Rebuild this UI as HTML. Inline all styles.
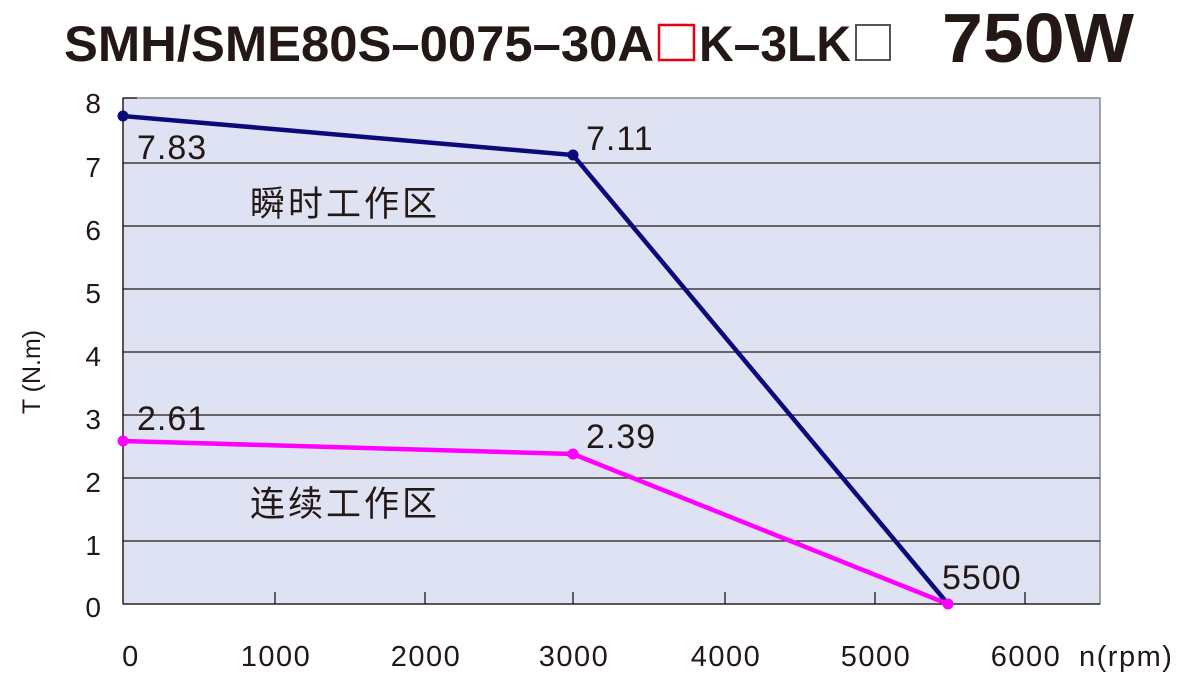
<!DOCTYPE html>
<html><head><meta charset="utf-8"><style>body{margin:0;background:#fff}svg{display:block}</style></head>
<body>
<svg width="1187" height="692" xmlns="http://www.w3.org/2000/svg" font-family="Liberation Sans, sans-serif">
<g font-weight="bold" fill="#231815">
<text x="64" y="61" font-size="50" textLength="590" lengthAdjust="spacingAndGlyphs">SMH/SME80S–0075–30A</text>
<rect x="659" y="25" width="35" height="35" fill="none" stroke="#e60012" stroke-width="2.5"/>
<text x="699" y="61" font-size="50" textLength="152" lengthAdjust="spacingAndGlyphs">K–3LK</text>
<rect x="856" y="25" width="34" height="35" fill="none" stroke="#555" stroke-width="2"/>
<text x="942" y="62" font-size="70" textLength="192" lengthAdjust="spacingAndGlyphs">750W</text>
</g>
<rect x="123" y="98" width="977" height="506" fill="#dfe2f2" stroke="#888" stroke-width="1.5"/>
<g stroke="#231815" stroke-width="1.3">
<line x1="123" y1="163" x2="1100" y2="163"/><line x1="123" y1="226" x2="1100" y2="226"/>
<line x1="123" y1="289" x2="1100" y2="289"/><line x1="123" y1="352" x2="1100" y2="352"/>
<line x1="123" y1="415" x2="1100" y2="415"/><line x1="123" y1="478" x2="1100" y2="478"/>
<line x1="123" y1="541" x2="1100" y2="541"/>
<line x1="123" y1="98" x2="123" y2="604"/><line x1="123" y1="604" x2="1100" y2="604"/>
<line x1="123" y1="98" x2="137" y2="98"/>
<line x1="275" y1="592" x2="275" y2="604"/><line x1="425" y1="592" x2="425" y2="604"/>
<line x1="573" y1="592" x2="573" y2="604"/><line x1="725" y1="592" x2="725" y2="604"/>
<line x1="875" y1="592" x2="875" y2="604"/><line x1="1025" y1="592" x2="1025" y2="604"/>
</g>
<polyline points="123,116 573,155 948,604" fill="none" stroke="#0a0a7a" stroke-width="4.5"/>
<polyline points="123,441 573,454 948,604" fill="none" stroke="#ff00ff" stroke-width="4.5"/>
<circle cx="123" cy="116" r="5.5" fill="#0a0a7a"/><circle cx="573" cy="155" r="5.5" fill="#0a0a7a"/>
<circle cx="123" cy="441" r="5.5" fill="#ff00ff"/><circle cx="573" cy="454" r="5.5" fill="#ff00ff"/>
<circle cx="948" cy="604" r="5.5" fill="#ff00ff"/>
<g fill="#231815" font-size="34" letter-spacing="1">
<text x="137" y="159">7.83</text><text x="586" y="150">7.11</text>
<text x="137" y="430">2.61</text><text x="586" y="448">2.39</text>
<text x="942" y="589">5500</text>
</g>
<g fill="#231815" font-size="35" font-family="Liberation Sans, Noto Sans CJK SC, sans-serif" letter-spacing="3">
<text x="250" y="216">瞬时工作区</text><text x="250" y="516">连续工作区</text>
</g>
<g fill="#231815" font-size="28" text-anchor="end">
<text x="101" y="113">8</text><text x="101" y="177">7</text><text x="101" y="240">6</text>
<text x="101" y="303">5</text><text x="101" y="366">4</text><text x="101" y="429">3</text>
<text x="101" y="492">2</text><text x="101" y="555">1</text><text x="101" y="617">0</text>
</g>
<g fill="#231815" font-size="29" text-anchor="middle" letter-spacing="1.5">
<text x="131" y="666">0</text><text x="276" y="666">1000</text><text x="426" y="666">2000</text>
<text x="574" y="666">3000</text><text x="726" y="666">4000</text><text x="876" y="666">5000</text>
<text x="1026" y="666">6000</text>
</g>
<text x="1079" y="666" fill="#231815" font-size="29" letter-spacing="1.5">n(rpm)</text>
<text transform="translate(40,372) rotate(-90)" text-anchor="middle" fill="#231815" font-size="25">T (N.m)</text>
</svg>
</body></html>
